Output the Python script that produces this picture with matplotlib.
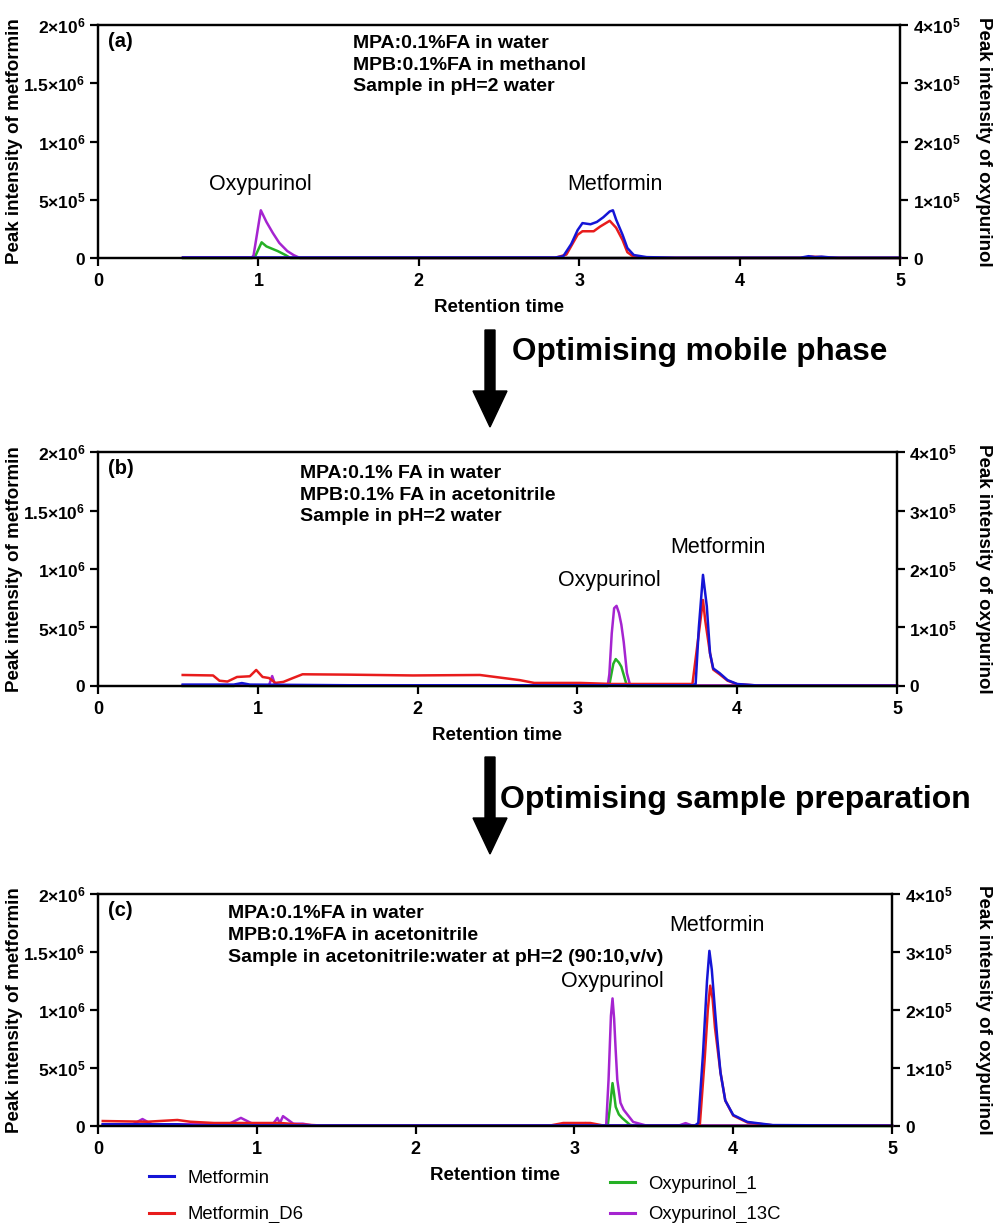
import matplotlib
matplotlib.use('Agg')
import matplotlib.pyplot as plt
from matplotlib.patches import FancyArrow
from matplotlib.ticker import FuncFormatter
from matplotlib.lines import Line2D

plt.rcParams['font.family'] = ['Liberation Sans', 'DejaVu Sans']
plt.rcParams['mathtext.fontset'] = 'custom'
plt.rcParams['mathtext.rm'] = 'Liberation Sans'
plt.rcParams['mathtext.bf'] = 'Liberation Sans:bold'

# ---------- colours / series names ----------
series_names = ['Metformin', 'Metformin_D6', 'Oxypurinol_1', 'Oxypurinol_13C']
colors = {'Metformin': '#1515d6', 'Metformin_D6': '#e81c1c',
          'Oxypurinol_1': '#25b025', 'Oxypurinol_13C': '#a524d0'}

# ---------- panel (a) ----------
a_met_t = [0.53, 2.85, 2.90, 2.95, 2.99, 3.02, 3.07, 3.11, 3.15, 3.19, 3.21, 3.23, 3.27, 3.30, 3.34, 3.42, 3.60, 4.38, 4.43, 4.47, 4.51, 4.56, 4.62, 5.0]
a_met = [5e3, 5e3, 1.5e4, 1.2e5, 2.4e5, 3.0e5, 2.9e5, 3.1e5, 3.5e5, 4.0e5, 4.1e5, 3.3e5, 2.0e5, 8.6e4, 2.6e4, 8e3, 3e3, 3e3, 1.6e4, 8e3, 1.2e4, 6e3, 3e3, 3e3]
a_d6_t = [0.53, 2.85, 2.92, 2.99, 3.02, 3.09, 3.13, 3.19, 3.23, 3.27, 3.30, 3.34, 3.42, 4.38, 4.45, 4.52, 4.6, 5.0]
a_d6 = [2e3, 2e3, 3e4, 2.0e5, 2.3e5, 2.3e5, 2.7e5, 3.2e5, 2.6e5, 1.55e5, 5e4, 1e4, 2e3, 2e3, 1.2e4, 8e3, 2e3, 2e3]
a_ox1_t = [0.53, 0.96, 0.98, 1.02, 1.05, 1.12, 1.17, 1.20, 5.0]
a_ox1 = [0, 0, 3e3, 2.7e4, 2.0e4, 1.2e4, 5e3, 0, 0]
a_ox13_t = [0.53, 0.96, 0.97, 1.015, 1.05, 1.09, 1.13, 1.18, 1.22, 1.26, 5.0]
a_ox13 = [1e3, 1e3, 5e3, 8.2e4, 6.2e4, 4.3e4, 2.6e4, 1.2e4, 5e3, 0, 0]

# ---------- panel (b) ----------
b_met_t = [0.53, 0.85, 0.90, 0.95, 1.6, 3.72, 3.74, 3.76, 3.786, 3.81, 3.83, 3.85, 3.89, 3.94, 4.0, 4.12, 5.0]
b_met = [1.2e4, 1.2e4, 2.5e4, 1.2e4, 6e3, 6e3, 1.7e4, 5e5, 9.5e5, 6.8e5, 2.8e5, 1.5e5, 1.1e5, 5e4, 1.7e4, 5e3, 3e3]
b_d6_t = [0.53, 0.72, 0.76, 0.81, 0.87, 0.95, 0.99, 1.03, 1.07, 1.11, 1.16, 1.22, 1.28, 1.56, 1.97, 2.39, 2.64, 2.73, 3.02, 3.22, 3.72, 3.76, 3.786, 3.80, 3.83, 3.85, 3.89, 3.94, 4.0, 4.12, 5.0]
b_d6 = [9.4e4, 9e4, 4.5e4, 3.8e4, 7.7e4, 8.3e4, 1.37e5, 7.7e4, 6.8e4, 2.6e4, 3.5e4, 6.8e4, 1.0e5, 9.7e4, 9e4, 9.4e4, 5e4, 2.6e4, 2.6e4, 1.7e4, 1.7e4, 4.5e5, 7.35e5, 5.6e5, 2.8e5, 1.4e5, 1.0e5, 4.5e4, 1.5e4, 5e3, 3e3]
b_ox1_t = [0.53, 0.85, 0.90, 0.95, 3.19, 3.20, 3.225, 3.24, 3.26, 3.275, 3.29, 3.31, 5.0]
b_ox1 = [0, 0, 3e3, 0, 0, 2e3, 3.8e4, 4.6e4, 4.0e4, 3.3e4, 1.9e4, 0, 0]
b_ox13_t = [0.53, 1.07, 1.09, 1.11, 3.19, 3.20, 3.215, 3.23, 3.245, 3.26, 3.275, 3.29, 3.31, 3.33, 5.0]
b_ox13 = [1e3, 1e3, 1.7e4, 1e3, 1e3, 2e4, 9e4, 1.33e5, 1.37e5, 1.25e5, 1.05e5, 7.5e4, 2.2e4, 1e3, 1e3]

# ---------- panel (c) ----------
c_met_t = [0.03, 0.5, 0.6, 3.76, 3.78, 3.81, 3.835, 3.85, 3.865, 3.885, 3.90, 3.92, 3.95, 4.0, 4.09, 4.25, 5.0]
c_met = [1.5e4, 1.5e4, 5e3, 5e3, 2.6e4, 6.3e5, 1.25e6, 1.51e6, 1.35e6, 1.0e6, 7.5e5, 4.6e5, 2.2e5, 9.5e4, 3.5e4, 8e3, 3e3]
c_d6_t = [0.03, 0.31, 0.5, 0.58, 0.73, 1.15, 1.25, 1.4, 2.85, 2.93, 3.1, 3.18, 3.76, 3.79, 3.82, 3.84, 3.855, 3.87, 3.885, 3.92, 3.95, 4.0, 4.09, 4.25, 5.0]
c_d6 = [4.3e4, 3.7e4, 5.2e4, 3.7e4, 2.6e4, 2.6e4, 1.5e4, 5e3, 5e3, 2.6e4, 2.6e4, 5e3, 5e3, 1.5e4, 5.7e5, 1.0e6, 1.21e6, 1.1e6, 8.5e5, 4.6e5, 2.2e5, 9e4, 3e4, 6e3, 2e3]
c_ox1_t = [0.03, 3.21, 3.225, 3.24, 3.25, 3.26, 3.28, 3.30, 3.35, 3.40, 5.0]
c_ox1 = [1e3, 1e3, 3.5e4, 7.4e4, 5.5e4, 3.3e4, 2.0e4, 1.4e4, 2e3, 0, 0]
c_ox13_t = [0.03, 0.22, 0.28, 0.34, 0.82, 0.9, 0.98, 1.1, 1.13, 1.145, 1.165, 1.23, 1.29, 1.35, 3.0, 3.07, 3.12, 3.2, 3.215, 3.23, 3.24, 3.25, 3.26, 3.27, 3.29, 3.31, 3.37, 3.45, 3.66, 3.70, 3.74, 5.0]
c_ox13 = [3e3, 3e3, 1.2e4, 3e3, 3e3, 1.4e4, 3e3, 3e3, 1.4e4, 5e3, 1.7e4, 4e3, 4e3, 1e3, 1e3, 5e3, 1e3, 1e3, 8e4, 1.9e5, 2.2e5, 1.85e5, 1.3e5, 8e4, 4e4, 2.8e4, 7e3, 1e3, 1e3, 5e3, 1e3, 1e3]

panel_tags = ['(a)', '(b)', '(c)']
conditions = ['MPA:0.1%FA in water\nMPB:0.1%FA in methanol\nSample in pH=2 water',
              'MPA:0.1% FA in water\nMPB:0.1% FA in acetonitrile\nSample in pH=2 water',
              'MPA:0.1%FA in water\nMPB:0.1%FA in acetonitrile\nSample in acetonitrile:water at pH=2 (90:10,v/v)']
steps = ['Optimising mobile phase', 'Optimising sample preparation']

left_ticks = [0, 5e5, 1e6, 1.5e6, 2e6]
right_ticks = [0, 1e5, 2e5, 3e5, 4e5]


def sci_label(v, pos=None):
    if v == 0:
        return r'$\mathbf{0}$'
    exp = 0
    m = v
    while m >= 10:
        m /= 10.0
        exp += 1
    ms = ('%g' % m)
    return r'$\mathbf{%s{\times}10^{%d}}$' % (ms, exp)


fig = plt.figure(figsize=(9.93, 12.23), dpi=100)

# axes rectangles (figure fractions)
rects = [[0.0987, 0.789, 0.8077, 0.1905],
         [0.0987, 0.4391, 0.8046, 0.1913],
         [0.0987, 0.0793, 0.7996, 0.1897]]

data = [
    (a_met_t, a_met, a_d6_t, a_d6, a_ox1_t, a_ox1, a_ox13_t, a_ox13),
    (b_met_t, b_met, b_d6_t, b_d6, b_ox1_t, b_ox1, b_ox13_t, b_ox13),
    (c_met_t, c_met, c_d6_t, c_d6, c_ox1_t, c_ox1, c_ox13_t, c_ox13),
]
# peak label positions (data coords, left axis)
peak_labels = [
    [('Oxypurinol', 1.01, 0.63e6), ('Metformin', 3.22, 0.63e6)],
    [('Oxypurinol', 3.20, 0.905e6), ('Metformin', 3.88, 1.18e6)],
    [('Oxypurinol', 3.24, 1.25e6), ('Metformin', 3.90, 1.73e6)],
]
cond_pos = [(0.318, 0.958), (0.253, 0.945), (0.164, 0.952)]

for i in range(3):
    mt, mv, dt, dv, o1t, o1v, o13t, o13v = data[i]
    ax = fig.add_axes(rects[i])
    ax2 = ax.twinx()
    ax.set_zorder(ax2.get_zorder() + 1)
    ax.patch.set_visible(False)

    ax2.plot(o1t, o1v, color=colors['Oxypurinol_1'], lw=1.8, clip_on=False)
    ax2.plot(o13t, o13v, color=colors['Oxypurinol_13C'], lw=1.8, clip_on=False)
    ax.plot(dt, dv, color=colors['Metformin_D6'], lw=1.8, clip_on=False)
    ax.plot(mt, mv, color=colors['Metformin'], lw=1.8, clip_on=False)

    ax.set_xlim(0, 5)
    ax.set_ylim(0, 2e6)
    ax2.set_ylim(0, 4e5)
    ax.set_xticks([0, 1, 2, 3, 4, 5])
    ax.set_yticks(left_ticks)
    ax2.set_yticks(right_ticks)
    ax.yaxis.set_major_formatter(FuncFormatter(sci_label))
    ax2.yaxis.set_major_formatter(FuncFormatter(sci_label))
    for a in (ax, ax2):
        for s in a.spines.values():
            s.set_linewidth(1.6)
        a.tick_params(direction='out', length=6, width=1.6, labelsize=12.5, pad=3)
    for lab in ax.get_xticklabels():
        lab.set_fontweight('bold')
    ax.tick_params(axis='x', labelsize=13, pad=5)

    w_px = rects[i][2] * 993
    ax.set_xlabel('Retention time', fontsize=13.5, fontweight='bold', labelpad=6)
    ax.set_ylabel('Peak intensity of metformin', fontsize=13.5, fontweight='bold',
                  ha='center', va='center')
    ax.yaxis.set_label_coords(-(98 - 14) / w_px, 0.5)
    ax2.set_ylabel('Peak intensity of oxypurinol', fontsize=13.5, fontweight='bold',
                   rotation=-90, ha='center', va='center')
    ax2.yaxis.set_label_coords((983 - 98) / w_px, 0.5)

    ax.text(0.012, 0.93, panel_tags[i], transform=ax.transAxes, fontsize=14.5,
            fontweight='bold', va='center', ha='left')
    ax.text(cond_pos[i][0], cond_pos[i][1], conditions[i], transform=ax.transAxes,
            fontsize=14, fontweight='bold', va='top', ha='left', linespacing=1.36)
    for name, px, py in peak_labels[i]:
        ax.text(px, py, name, fontsize=15.5, ha='center', va='center')

# ---------- arrows between panels ----------
arrow_tops = [(1223 - 330) / 1223, (1223 - 757) / 1223]
for k in range(2):
    y0 = arrow_tops[k]
    fig.patches.append(FancyArrow(490 / 993, y0, 0, -97 / 1223, width=10 / 993,
                                  head_width=34 / 993, head_length=36 / 1223,
                                  length_includes_head=True, color='black',
                                  transform=fig.transFigure, figure=fig))
fig.text(512 / 993, (1223 - 352) / 1223, steps[0], fontsize=22.7, fontweight='bold',
         va='center', ha='left')
fig.text(500 / 993, (1223 - 800) / 1223, steps[1], fontsize=23, fontweight='bold',
         va='center', ha='left')

# ---------- legends ----------
h1 = [Line2D([], [], color=colors[n], lw=2.2) for n in series_names[:2]]
h2 = [Line2D([], [], color=colors[n], lw=2.2) for n in series_names[2:]]
leg1 = fig.legend(h1, series_names[:2], loc='upper left', bbox_to_anchor=(132 / 993, 1 - 1153 / 1223),
                  frameon=False, fontsize=13.3, handlelength=1.35, labelspacing=1.05,
                  handletextpad=0.75)
leg2 = fig.legend(h2, series_names[2:], loc='upper left', bbox_to_anchor=(593 / 993, 1 - 1159 / 1223),
                  frameon=False, fontsize=13.3, handlelength=1.35, labelspacing=0.73,
                  handletextpad=0.75)

fig.savefig('out.png', dpi=100)
